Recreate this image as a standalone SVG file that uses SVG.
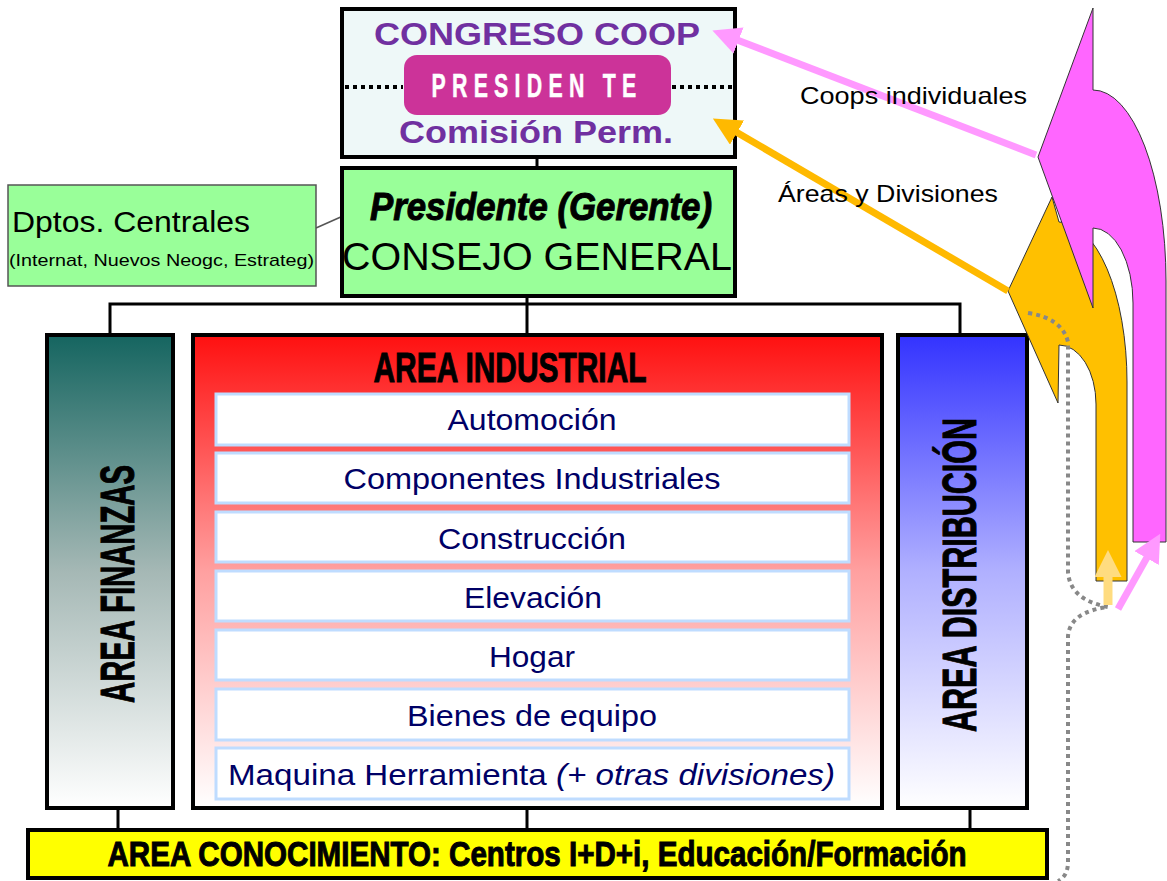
<svg xmlns="http://www.w3.org/2000/svg" width="1167" height="881" viewBox="0 0 1167 881">
<defs>
<style>
.box{stroke:#000;stroke-width:4}
.sub{fill:#fff;stroke:#bfdcff;stroke-width:3}
.subt{font-family:"Liberation Sans",Arial,sans-serif;font-size:30px;fill:#000066;text-anchor:middle}
.imp{font-family:"Liberation Sans Narrow","Liberation Sans",Arial,sans-serif;font-weight:bold;fill:#000;stroke:#000;stroke-width:1;text-anchor:middle}
.purp{font-family:"Liberation Sans",Arial,sans-serif;font-weight:bold;fill:#7030a0;text-anchor:middle}
.lbl{font-family:"Liberation Sans",Arial,sans-serif;font-size:24px;fill:#000}
.conn{stroke:#000;stroke-width:3;fill:none}
</style>
<linearGradient id="gFin" x1="0" y1="0" x2="0" y2="1"><stop offset="0" stop-color="#156560"/><stop offset="0.5" stop-color="#a5b8b5"/><stop offset="1" stop-color="#ffffff"/></linearGradient>
<linearGradient id="gInd" x1="0" y1="0" x2="0" y2="1"><stop offset="0" stop-color="#ff1010"/><stop offset="0.5" stop-color="#ffa0a0"/><stop offset="1" stop-color="#ffffff"/></linearGradient>
<linearGradient id="gDis" x1="0" y1="0" x2="0" y2="1"><stop offset="0" stop-color="#3333ff"/><stop offset="0.5" stop-color="#b0b0ff"/><stop offset="1" stop-color="#ffffff"/></linearGradient>
<marker id="mPink" markerWidth="4" markerHeight="4" refX="1" refY="2" orient="auto" markerUnits="strokeWidth"><path d="M0,0 L4,2 L0,4 z" fill="#ff99ff"/></marker>
<marker id="mOr" markerWidth="4" markerHeight="4" refX="1" refY="2" orient="auto" markerUnits="strokeWidth"><path d="M0,0 L4,2 L0,4 z" fill="#ffb900"/></marker>
<marker id="mLOr" markerWidth="3" markerHeight="3" refX="1" refY="1.5" orient="auto" markerUnits="strokeWidth"><path d="M0,0 L3,1.5 L0,3 z" fill="#ffdc80"/></marker>
</defs>

<g id="connectors">
<line class="conn" x1="537" y1="157" x2="537" y2="167"/>
<path class="conn" d="M527,296 V304 M110,335 V304 H960 V335 M527,304 V335"/>
<path class="conn" d="M118,808 V830 M527,808 V830 M970,808 V830"/>
<line x1="316" y1="228" x2="343" y2="216" stroke="#555" stroke-width="1.5"/>
</g>

<g id="congreso">
<rect class="box" x="342" y="9" width="393" height="148" fill="#eef8f8"/>
<line x1="345" y1="87" x2="403" y2="87" stroke="#000" stroke-width="4" stroke-dasharray="4 4"/>
<line x1="672" y1="87" x2="732" y2="87" stroke="#000" stroke-width="4" stroke-dasharray="4 4"/>
<text class="purp" x="537" y="45" font-size="32" textLength="326" lengthAdjust="spacingAndGlyphs">CONGRESO COOP</text>
<rect x="404" y="55" width="267" height="60" rx="13" fill="#cc3399"/>
<text class="imp" x="537" y="97" font-size="34" letter-spacing="10" style="fill:#fff;stroke:#fff;stroke-width:0.5" textLength="211" lengthAdjust="spacingAndGlyphs">PRESIDEN TE</text>
<text class="purp" x="536" y="143" font-size="31" textLength="274" lengthAdjust="spacingAndGlyphs">Comisión Perm.</text>
</g>

<g id="consejo">
<rect class="box" x="342" y="168" width="393" height="128" fill="#99ff99"/>
<text class="imp" x="541" y="220" font-size="38" font-style="italic" textLength="342" lengthAdjust="spacingAndGlyphs">Presidente (Gerente)</text>
<text x="537" y="270" font-family="Liberation Sans Narrow,Liberation Sans,Arial,sans-serif" font-size="39" text-anchor="middle" textLength="390" lengthAdjust="spacingAndGlyphs">CONSEJO GENERAL</text>
</g>

<g id="dptos">
<rect x="8" y="185" width="308" height="101" fill="#99ff99" stroke="#555" stroke-width="1.5"/>
<text x="12" y="232" font-family="Liberation Sans,Arial,sans-serif" font-size="29" textLength="238" lengthAdjust="spacingAndGlyphs">Dptos. Centrales</text>
<text x="9" y="266" font-family="Liberation Sans Narrow,Liberation Sans,Arial,sans-serif" font-size="17" textLength="305" lengthAdjust="spacingAndGlyphs">(Internat, Nuevos Neogc, Estrateg)</text>
</g>

<g id="finanzas">
<rect class="box" x="47" y="335" width="126" height="473" fill="url(#gFin)"/>
<text class="imp" transform="translate(134,584) rotate(-90)" font-size="48" textLength="238" lengthAdjust="spacingAndGlyphs">AREA FINANZAS</text>
</g>

<g id="industrial">
<rect class="box" x="193" y="335" width="689" height="473" fill="url(#gInd)"/>
<text class="imp" x="510" y="382" font-size="42" textLength="273" lengthAdjust="spacingAndGlyphs">AREA INDUSTRIAL</text>
<rect class="sub" x="216" y="394" width="633" height="51"/>
<text class="subt" x="532" y="430" textLength="169" lengthAdjust="spacingAndGlyphs">Automoción</text>
<rect class="sub" x="216" y="453" width="633" height="50"/>
<text class="subt" x="532" y="489" textLength="377" lengthAdjust="spacingAndGlyphs">Componentes  Industriales</text>
<rect class="sub" x="216" y="512" width="633" height="50"/>
<text class="subt" x="532" y="549" textLength="188" lengthAdjust="spacingAndGlyphs">Construcción</text>
<rect class="sub" x="216" y="571" width="633" height="50"/>
<text class="subt" x="533" y="608" textLength="138" lengthAdjust="spacingAndGlyphs">Elevación</text>
<rect class="sub" x="216" y="630" width="633" height="50"/>
<text class="subt" x="532" y="667" textLength="86" lengthAdjust="spacingAndGlyphs">Hogar</text>
<rect class="sub" x="216" y="689" width="633" height="51"/>
<text class="subt" x="532" y="726" textLength="250" lengthAdjust="spacingAndGlyphs">Bienes de equipo</text>
<rect class="sub" x="216" y="748" width="633" height="51"/>
<text class="subt" x="228" y="785" style="text-anchor:start" textLength="607" lengthAdjust="spacingAndGlyphs">Maquina Herramienta  <tspan font-style="italic">(+ otras divisiones)</tspan></text>
</g>

<g id="distribucion">
<rect class="box" x="898" y="335" width="129" height="473" fill="url(#gDis)"/>
<text class="imp" transform="translate(976,575) rotate(-90)" font-size="48" textLength="314" lengthAdjust="spacingAndGlyphs">AREA DISTRIBUCIÓN</text>
</g>

<g id="conocimiento">
<rect class="box" x="28" y="830" width="1019" height="48" fill="#ffff00"/>
<text class="imp" x="537" y="866" font-size="35" textLength="859" lengthAdjust="spacingAndGlyphs">AREA CONOCIMIENTO:  Centros I+D+i, Educación/Formación</text>
</g>

<g id="curved-arrows">
<path d="M1059,222 A68,160 0 0 1 1127,382 V581 H1096 V404 A37,59 0 0 0 1059,345 L1058,403 L1008,291 L1052,197 Z" fill="#ffc000" stroke="#333" stroke-width="1"/>
<path d="M1093,90 A73,191 0 0 1 1166,281 V542 H1133 V303 A40,75 0 0 0 1093,228 L1093,308 L1038,157 L1093,8 Z" fill="#ff66ff" stroke="#333" stroke-width="1"/>
<path d="M1028,313 Q1062,318 1068,342 V572 Q1070,600 1108,607 Q1070,612 1068,636 V862 Q1068,876 1058,881" fill="none" stroke="#888" stroke-width="4" stroke-dasharray="4 4"/>
<line x1="1108" y1="605" x2="1108" y2="568" stroke="#ffdc80" stroke-width="9" marker-end="url(#mLOr)"/>
<line x1="1118" y1="609" x2="1150" y2="552" stroke="#ff99ff" stroke-width="7" marker-end="url(#mPink)"/>
<line x1="1036" y1="155" x2="732" y2="38" stroke="#ff99ff" stroke-width="7" marker-end="url(#mPink)"/>
<line x1="1008" y1="291" x2="731" y2="129" stroke="#ffb900" stroke-width="7" marker-end="url(#mOr)"/>
<text class="lbl" x="800" y="104" textLength="227" lengthAdjust="spacingAndGlyphs">Coops individuales</text>
<text class="lbl" x="778" y="202" textLength="220" lengthAdjust="spacingAndGlyphs">Áreas y Divisiones</text>
</g>
</svg>
